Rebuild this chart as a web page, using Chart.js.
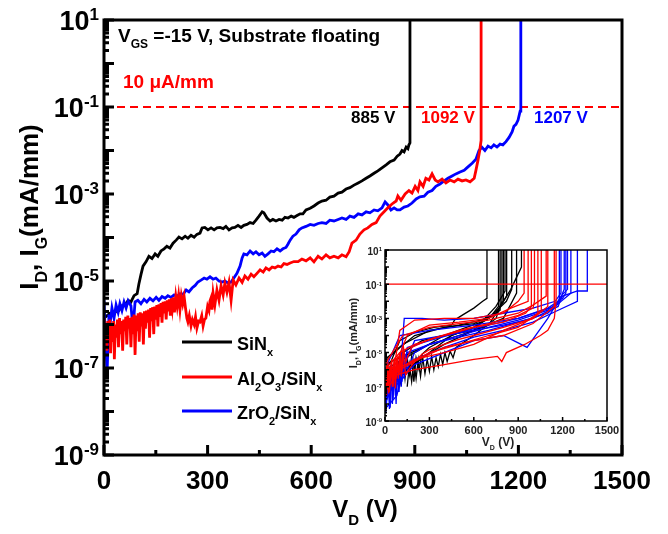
<!DOCTYPE html>
<html lang="en">
  <head>
    <meta charset="UTF-8" />
    <title>Breakdown characteristics</title>
    <style>
      body {
        margin: 0;
        background: #fff;
      }
      #wrap {
        position: relative;
        width: 668px;
        height: 534px;
      }
      #main {
        position: absolute;
        left: 0;
        top: 0;
      }
      #inset {
        position: absolute;
        left: 340px;
        top: 240px;
      }
    </style>
  </head>
  <body>
    <script src="https://cdn.jsdelivr.net/npm/chart.js@4.4.1/dist/chart.umd.min.js"></script>

    <div id="wrap">
      <canvas id="main" width="668" height="534"></canvas>
      <canvas id="inset" width="280" height="220"></canvas>
    </div>

    <script>
      // ---- data: [V_D (V), I (mA/mm)] ----
      const sinData = [[0,1.4e-6],[9,1.6e-6],[17,1.8e-6],[26,1.7e-6],[35,2.0e-6],[43,2.1e-6],[52,2.7e-6],[61,2.8e-6],[70,3.6e-6],[78,3.3e-6],[87,4.6e-6],[96,5.1e-6],[101,8.5e-6],[107,1.4e-5],[113,2.2e-5],[122,2.8e-5],[130,3.7e-5],[139,3.3e-5],[148,4.2e-5],[156,3.7e-5],[165,4.9e-5],[174,5.5e-5],[182,6.3e-5],[191,5.7e-5],[200,7.4e-5],[209,8.7e-5],[217,1.02e-4],[226,9.3e-5],[235,1.07e-4],[243,9.6e-5],[252,1.13e-4],[261,1.02e-4],[269,1.18e-4],[278,1.26e-4],[284,1.66e-4],[292,1.7e-4],[301,1.5e-4],[310,1.66e-4],[319,1.5e-4],[327,1.66e-4],[336,1.7e-4],[345,1.6e-4],[353,1.8e-4],[362,1.5e-4],[371,1.66e-4],[379,1.7e-4],[388,1.9e-4],[397,1.7e-4],[405,1.9e-4],[414,2.0e-4],[423,2.2e-4],[432,2.1e-4],[440,2.5e-4],[449,3.1e-4],[458,3.9e-4],[463,3.7e-4],[472,2.8e-4],[481,2.4e-4],[489,2.6e-4],[498,2.4e-4],[507,2.6e-4],[516,2.5e-4],[524,2.9e-4],[533,2.8e-4],[542,3.1e-4],[550,2.9e-4],[559,3.2e-4],[568,3.5e-4],[576,3.5e-4],[585,4.3e-4],[597,4.7e-4],[608,5.3e-4],[620,6.2e-4],[631,6.9e-4],[643,7.2e-4],[654,8.5e-4],[666,8.9e-4],[678,1.05e-3],[689,1.1e-3],[701,1.3e-3],[712,1.4e-3],[724,1.6e-3],[736,1.8e-3],[747,2.0e-3],[759,2.3e-3],[770,2.6e-3],[782,3.0e-3],[793,3.4e-3],[805,4.0e-3],[817,4.7e-3],[828,5.5e-3],[840,6.0e-3],[849,7.4e-3],[857,8.3e-3],[863,1.0e-2],[869,9.3e-3],[875,1.2e-2],[880,1.1e-2],[883,1.35e-2],[886,1.5e-2],[886,10]];

      const alData = [[0,1.4e-6],[3,5e-7],[6,1.1e-6],[8,2.5e-7],[11,1.2e-6],[14,6e-7],[17,1.3e-6],[19,2.2e-7],[22,1.1e-6],[25,4e-7],[28,1.2e-6],[30,1.6e-7],[33,1.0e-6],[36,5e-7],[39,1.3e-6],[42,3e-7],[45,1.4e-6],[48,6e-7],[51,1.2e-6],[54,2.5e-7],[57,1.3e-6],[60,7e-7],[63,1.5e-6],[66,3.5e-7],[69,1.6e-6],[72,8e-7],[75,1.4e-6],[78,3e-7],[81,1.5e-6],[84,6e-7],[87,1.7e-6],[90,2e-7],[93,1.6e-6],[96,7e-7],[99,1.8e-6],[102,4e-7],[105,1.9e-6],[108,9e-7],[111,1.8e-6],[114,3.5e-7],[117,2.0e-6],[120,8e-7],[123,2.1e-6],[126,1.1e-6],[129,2.2e-6],[132,5e-7],[135,2.4e-6],[138,1.2e-6],[141,2.5e-6],[144,6e-7],[147,2.6e-6],[150,1.3e-6],[153,2.8e-6],[156,9e-7],[159,2.9e-6],[162,1.5e-6],[165,3.1e-6],[168,1.1e-6],[171,3.3e-6],[174,1.8e-6],[177,3.4e-6],[180,1.3e-6],[183,3.6e-6],[186,2.0e-6],[189,3.8e-6],[192,1.6e-6],[195,4.0e-6],[198,2.4e-6],[201,4.2e-6],[204,1.9e-6],[208,4.4e-6],[212,2.6e-6],[216,4.6e-6],[220,2.2e-6],[224,4.5e-6],[228,3.0e-6],[232,4.4e-6],[236,2.4e-6],[240,1.4e-6],[243,1.15e-6],[247,1.6e-6],[252,9.3e-7],[256,1.3e-6],[261,1.0e-6],[265,1.5e-6],[269,8.3e-7],[274,1.2e-6],[278,1.15e-6],[283,1.6e-6],[287,9.3e-7],[291,1.3e-6],[295,1.4e-6],[300,2.6e-6],[304,2.1e-6],[307,3.5e-6],[310,4.1e-6],[313,2.2e-6],[316,5.2e-6],[321,2.8e-6],[327,6.2e-6],[333,3.6e-6],[339,7.8e-6],[345,4.8e-6],[350,8.9e-6],[356,5.5e-6],[362,9.3e-6],[368,3.6e-6],[374,1.05e-5],[382,8.1e-6],[391,1.17e-5],[400,9.3e-6],[408,1.3e-5],[417,1.1e-5],[426,1.44e-5],[434,1.25e-5],[443,1.5e-5],[452,1.8e-5],[461,1.6e-5],[469,2.0e-5],[478,1.8e-5],[487,2.1e-5],[495,2.0e-5],[504,2.2e-5],[513,2.1e-5],[521,2.5e-5],[530,2.4e-5],[539,2.6e-5],[550,2.8e-5],[562,2.8e-5],[573,3.2e-5],[585,2.9e-5],[597,3.4e-5],[608,2.75e-5],[620,3.7e-5],[631,3.2e-5],[643,4.0e-5],[654,3.4e-5],[666,3.7e-5],[678,3.4e-5],[689,4.0e-5],[701,3.6e-5],[710,4.7e-5],[718,7.4e-5],[730,8.7e-5],[741,1.2e-4],[753,1.5e-4],[764,1.66e-4],[776,2.0e-4],[788,2.2e-4],[799,3.1e-4],[811,3.9e-4],[822,4.8e-4],[834,5.9e-4],[846,6.9e-4],[851,9.0e-4],[860,7.2e-4],[872,1.0e-3],[883,1.2e-3],[892,1.05e-3],[901,1.5e-3],[909,1.2e-3],[915,1.9e-3],[924,1.5e-3],[932,2.3e-3],[941,2.1e-3],[950,2.9e-3],[959,2.1e-3],[967,1.9e-3],[979,2.2e-3],[990,1.8e-3],[1002,2.1e-3],[1014,1.9e-3],[1025,2.2e-3],[1037,2.0e-3],[1048,2.1e-3],[1060,1.9e-3],[1072,2.3e-3],[1077,3.5e-3],[1083,6.0e-3],[1088,1.0e-2],[1092,1.7e-2],[1092,10]];

      const zrData = [[0,3.6e-6],[3,7.4e-7],[6,2.6e-7],[9,7.8e-8],[12,4.4e-7],[14,1.7e-6],[17,9.8e-7],[23,2.4e-6],[29,1.4e-6],[35,2.8e-6],[41,1.9e-6],[46,3.0e-6],[52,2.1e-6],[58,3.3e-6],[64,2.4e-6],[70,3.5e-6],[78,2.7e-6],[84,8.3e-7],[90,3.3e-6],[98,3.6e-6],[107,3.0e-6],[116,3.8e-6],[124,3.3e-6],[133,4.0e-6],[142,3.5e-6],[151,4.2e-6],[159,3.6e-6],[168,4.4e-6],[177,4.0e-6],[185,4.6e-6],[194,4.2e-6],[203,4.8e-6],[211,4.4e-6],[220,5.1e-6],[229,4.9e-6],[238,6.2e-6],[246,5.6e-6],[255,6.9e-6],[264,7.9e-6],[272,9.5e-6],[281,1.05e-5],[290,1.17e-5],[298,1.1e-5],[307,1.25e-5],[316,1.1e-5],[324,1.17e-5],[333,1.0e-5],[342,9.5e-6],[350,1.0e-5],[359,9.0e-6],[368,9.5e-6],[376,1.17e-5],[385,1.5e-5],[394,2.2e-5],[400,3.4e-5],[405,4.2e-5],[414,4.0e-5],[423,4.9e-5],[432,4.2e-5],[440,4.7e-5],[449,4.0e-5],[458,4.4e-5],[466,3.7e-5],[475,4.2e-5],[484,4.9e-5],[492,4.7e-5],[501,5.5e-5],[510,4.9e-5],[518,5.5e-5],[527,5.9e-5],[533,7.1e-5],[539,8.7e-5],[547,1.07e-4],[556,1.2e-4],[565,1.5e-4],[573,1.66e-4],[585,1.8e-4],[597,2.0e-4],[608,1.9e-4],[620,2.1e-4],[631,2.2e-4],[643,2.1e-4],[654,2.5e-4],[666,2.4e-4],[678,2.6e-4],[689,2.8e-4],[701,2.6e-4],[712,3.1e-4],[724,2.9e-4],[736,3.5e-4],[747,3.3e-4],[759,3.9e-4],[770,3.7e-4],[782,4.3e-4],[793,4.1e-4],[805,4.8e-4],[814,6.6e-4],[822,5.6e-4],[831,4.3e-4],[840,4.8e-4],[849,4.3e-4],[857,4.3e-4],[869,5.0e-4],[880,5.3e-4],[892,6.2e-4],[904,7.7e-4],[915,8.6e-4],[927,8.9e-4],[938,1.1e-3],[950,1.2e-3],[961,1.5e-3],[973,1.7e-3],[985,2.0e-3],[996,2.3e-3],[1008,2.6e-3],[1019,2.9e-3],[1031,3.2e-3],[1043,3.5e-3],[1054,4.2e-3],[1066,5.1e-3],[1077,6.3e-3],[1086,1.0e-2],[1094,1.2e-2],[1103,1.0e-2],[1112,1.26e-2],[1121,1.15e-2],[1129,1.35e-2],[1138,1.2e-2],[1147,1.4e-2],[1155,1.35e-2],[1164,1.6e-2],[1173,2.0e-2],[1182,2.7e-2],[1187,3.6e-2],[1193,4.0e-2],[1199,5.0e-2],[1205,8.0e-2],[1207,9.5e-2],[1207,10]];

      // inset: several devices of each kind
      const insetSiN = [
        [[0,1e-6],[40,3e-6],[100,5e-5],[200,1.5e-4],[330,3e-4],[450,4e-4],[470,8e-4],[520,1.5e-3],[600,4e-3],[660,1e-2],[689,1.5e-2],[689,10]],
        [[0,5e-7],[80,1e-6],[120,1e-5],[250,5e-5],[400,1e-4],[550,3e-4],[650,6e-4],[720,1.5e-3],[767,5e-3],[767,10]],
        [[0,2e-7],[100,3e-7],[150,1e-6],[300,1e-5],[450,1e-4],[600,3e-4],[700,1e-3],[778,3e-3],[778,10]],
        [[0,3e-6],[100,2e-5],[200,1e-4],[400,3e-4],[600,5e-4],[750,2e-3],[800,1e-2],[800,10]],
        [[0,1e-6],[150,1e-6],[250,5e-6],[400,3e-5],[600,2e-4],[750,5e-3],[811,4e-2],[811,10]],
        [[0,4e-6],[120,3e-5],[300,2e-4],[500,4e-4],[700,1e-3],[820,1e-2],[856,5e-2],[856,10]],
        [[0,1e-6],[200,1e-5],[400,1e-4],[600,2e-4],[800,1e-3],[889,3e-2],[889,10]],
        [[0,2e-6],[300,3e-5],[500,1e-4],[700,4e-4],[850,5e-2],[922,1],[922,10]],
        [[150,1e-7],[165,2e-6],[180,2e-7],[195,3e-6],[210,3e-7],[225,4e-6],[240,4e-7],[255,5e-6],[270,6e-7],[285,4e-6],[300,8e-7],[315,6e-6],[330,1e-6],[345,5e-6],[360,1.5e-6],[375,8e-6],[390,2e-6],[405,1e-5],[420,3e-6],[440,1.2e-5],[460,5e-6],[480,2e-5],[600,1e-4],[750,1e-3],[790,1e-2],[790,10]],
        [[60,1e-6],[75,1e-7],[90,3e-6],[105,2e-7],[120,4e-6],[135,3e-7],[150,5e-6],[165,5e-7],[180,6e-6],[195,2e-7],[210,5e-6],[230,1e-6],[250,8e-6],[300,2e-5],[450,1e-4],[600,3e-4],[750,2e-3],[822,2e-2],[822,10]]
      ];
      const insetAl = [
        [[0,1e-7],[60,1e-6],[100,2e-4],[200,8e-4],[400,1e-3],[600,1e-3],[800,2e-3],[900,1e-2],[940,3e-2],[940,10]],
        [[0,3e-7],[80,3e-6],[150,1e-4],[300,4e-4],[500,6e-4],[700,1e-3],[850,4e-3],[967,1e-2],[967,10]],
        [[0,1e-6],[100,1e-5],[200,3e-5],[400,1e-4],[600,3e-4],[800,6e-4],[950,2e-3],[989,5e-3],[989,10]],
        [[0,5e-8],[80,5e-7],[200,1e-6],[400,2e-6],[600,4e-6],[760,6e-6],[789,3e-6],[820,1e-5],[944,3e-5],[1050,1e-4],[1100,2e-4],[1144,1e-3],[1156,1e-2],[1156,10]],
        [[0,2e-7],[100,1e-6],[250,5e-6],[400,2e-5],[600,5e-5],[800,1e-4],[1000,5e-4],[1144,5e-3],[1144,10]],
        [[0,1e-6],[150,2e-6],[300,1e-5],[500,3e-5],[700,1e-4],[900,3e-4],[1033,2e-3],[1033,10]],
        [[0,4e-7],[200,4e-6],[400,1e-5],[600,3e-5],[800,2e-4],[1000,1e-3],[1056,3e-3],[1056,10]],
        [[0,2e-6],[120,1e-4],[300,3e-4],[500,5e-4],[700,8e-4],[900,2e-3],[1000,6e-3],[1089,2e-2],[1089,10]],
        [[0,3e-7],[10,3e-8],[20,1e-6],[30,5e-8],[40,2e-6],[50,1e-7],[60,3e-6],[70,8e-8],[80,5e-6],[90,3e-7],[100,8e-6],[110,4e-7],[120,1e-5],[140,5e-7],[160,1e-6],[200,3e-6],[250,8e-6],[300,1.5e-5],[400,3e-5],[500,6e-5],[600,1e-4],[800,3e-4],[1000,1e-3],[1100,5e-3],[1100,10]],
        [[0,1e-6],[5,5e-8],[10,2e-6],[15,1e-7],[20,3e-6],[25,4e-8],[30,1.5e-6],[35,2e-7],[45,4e-6],[55,1e-7],[65,5e-6],[75,3e-7],[85,6e-6],[95,5e-7],[105,1e-5],[115,8e-7],[125,2e-5],[140,3e-6],[180,2e-5],[300,6e-5],[500,2e-4],[700,5e-4],[900,1.5e-3],[1000,4e-3],[1010,1e-2],[1010,10]]
      ];
      const insetZr = [
        [[0,1e-8],[50,1e-7],[100,3e-7],[130,1e-3],[250,1e-3],[400,8e-4],[600,1e-3],[800,2e-3],[1000,4e-3],[1150,1e-2],[1189,3e-2],[1189,10]],
        [[0,5e-9],[80,3e-8],[120,1e-6],[200,5e-5],[400,1e-4],[600,2e-4],[800,4e-4],[1000,1e-3],[1170,5e-3],[1200,3e-2],[1211,5e-2],[1211,10]],
        [[0,3e-8],[100,2e-7],[200,2e-6],[400,1e-5],[600,5e-5],[800,1e-4],[920,3e-5],[960,2e-5],[1100,1e-3],[1189,2e-2],[1233,5e-2],[1233,10]],
        [[0,1e-7],[150,1e-5],[300,3e-5],[500,8e-5],[700,2e-4],[900,6e-4],[1100,2e-3],[1190,1e-2],[1256,3e-2],[1256,10]],
        [[0,1e-6],[100,1e-4],[300,2e-4],[600,4e-4],[900,1e-3],[1150,5e-3],[1200,2e-2],[1300,4e-2],[1367,4e-2],[1367,10]],
        [[0,2e-8],[50,5e-7],[100,1e-6],[200,4e-6],[400,2e-5],[600,8e-5],[800,2e-4],[1000,6e-4],[1170,3e-3],[1300,1e-2],[1300,10]],
        [[0,1e-6],[10,1e-8],[20,5e-7],[30,5e-9],[40,2e-6],[50,1e-8],[60,1e-6],[70,3e-8],[80,3e-6],[90,5e-8],[100,2e-6],[110,1e-7],[120,5e-6],[130,3e-7],[140,8e-6],[150,1e-6],[200,1e-5],[300,3e-5],[500,1e-4],[700,3e-4],[900,8e-4],[1100,3e-3],[1178,1e-2],[1178,10]],
        [[0,3e-7],[5,3e-9],[10,8e-7],[15,2e-8],[25,1.5e-6],[35,6e-9],[45,2e-6],[55,2e-8],[65,3e-6],[75,1e-8],[85,4e-6],[95,5e-8],[105,6e-6],[115,2e-7],[125,1e-5],[135,5e-7],[150,2e-5],[300,5e-5],[500,1.5e-4],[700,4e-4],[900,1e-3],[1100,4e-3],[1200,1.5e-2],[1222,3e-2],[1222,10]]
      ];

      const seriesNames = ["SiN", "Al2O3/SiN", "ZrO2/SiN"];
      const seriesColors = ["#000000", "#ff0000", "#0000ff"];
      const xTicks = [0, 300, 600, 900, 1200, 1500];
      const yExps = [1, -1, -3, -5, -7, -9];
      const limitCurrent = 0.1; // 10 uA/mm criterion
      const breakdownLabels = ["885 V", "1092 V", "1207 V"];

      const FONT = '"Liberation Sans", Arial, Helvetica, sans-serif';

      function pts(arr) {
        return arr.map(p => ({ x: p[0], y: p[1] }));
      }

      // text with sub/superscripts, parts = [[text, "sub"|"sup"|undefined], ...]
      function rich(ctx, parts, x, y, size, color, align) {
        let total = 0;
        const m = parts.map(p => {
          const s = p[1] ? Math.round(size * 0.62) : size;
          ctx.font = "bold " + s + "px " + FONT;
          const w = ctx.measureText(p[0]).width;
          total += w;
          return { t: p[0], s: s, w: w, k: p[1] };
        });
        let cx = x;
        if (align === "center") cx = x - total / 2;
        if (align === "right") cx = x - total;
        ctx.fillStyle = color;
        ctx.textAlign = "left";
        ctx.textBaseline = "alphabetic";
        m.forEach(p => {
          ctx.font = "bold " + p.s + "px " + FONT;
          let dy = 0;
          if (p.k === "sub") dy = size * 0.33;
          if (p.k === "sup") dy = -size * 0.36;
          ctx.fillText(p.t, cx, y + dy);
          cx += p.w;
        });
      }

      // frame + inward ticks for a log-y / linear-x chart
      function drawAxes(chart, lw, major, minor) {
        const { ctx, chartArea: a, scales } = chart;
        const x = scales.x, y = scales.y;
        ctx.save();
        ctx.strokeStyle = "#000";
        ctx.lineWidth = lw;
        ctx.strokeRect(a.left, a.top, a.right - a.left, a.bottom - a.top);
        ctx.beginPath();
        for (let v = 0; v <= 1500; v += 150) {
          const px = x.getPixelForValue(v);
          const len = v % 300 === 0 ? major : minor;
          ctx.moveTo(px, a.bottom);
          ctx.lineTo(px, a.bottom - len);
        }
        for (let e = -9; e <= 1; e++) {
          for (let k = 1; k <= 9; k++) {
            const val = k * Math.pow(10, e);
            if (val > 10) break;
            const py = y.getPixelForValue(val);
            const len = k === 1 ? major : minor;
            ctx.moveTo(a.left, py);
            ctx.lineTo(a.left + len, py);
          }
        }
        ctx.stroke();
        ctx.restore();
      }

      const mainDeco = {
        id: "mainDeco",
        beforeDatasetsDraw(chart) {
          const { ctx, chartArea: a, scales } = chart;
          const py = scales.y.getPixelForValue(limitCurrent);
          ctx.save();
          ctx.strokeStyle = "#ff0000";
          ctx.lineWidth = 2;
          ctx.setLineDash([8, 5]);
          ctx.beginPath();
          ctx.moveTo(a.left, py);
          ctx.lineTo(a.right, py);
          ctx.stroke();
          ctx.restore();
        },
        afterDraw(chart) {
          const { ctx, chartArea: a, scales } = chart;
          const x = scales.x, y = scales.y;
          drawAxes(chart, 3, 10, 5);

          // tick labels
          xTicks.forEach(v => {
            rich(ctx, [[String(v)]], x.getPixelForValue(v), 489, 26, "#000", "center");
          });
          yExps.forEach(e => {
            const py = y.getPixelForValue(Math.pow(10, e));
            rich(ctx, [["10"], [String(e), "sup"]], 99, py + 10, 27, "#000", "right");
          });

          // axis titles
          rich(ctx, [["V"], ["D", "sub"], [" (V)"]], 365, 517, 24, "#000", "center");
          ctx.save();
          ctx.translate(38, 207);
          ctx.rotate(-Math.PI / 2);
          rich(ctx, [["I"], ["D", "sub"], [", I"], ["G", "sub"], ["(mA/mm)"]], 0, 0, 26, "#000", "center");
          ctx.restore();

          // annotations
          rich(ctx, [["V"], ["GS", "sub"], [" =-15 V, Substrate floating"]], 118, 42, 19, "#000", "left");
          rich(ctx, [["10 \u03bcA/mm"]], 123, 88, 19, "#ff0000", "left");
          rich(ctx, [[breakdownLabels[0]]], 351, 123, 17, seriesColors[0], "left");
          rich(ctx, [[breakdownLabels[1]]], 421, 123, 17, seriesColors[1], "left");
          rich(ctx, [[breakdownLabels[2]]], 534, 123, 17, seriesColors[2], "left");

          // legend
          const legendParts = [
            [["SiN"], ["x", "sub"]],
            [["Al"], ["2", "sub"], ["O"], ["3", "sub"], ["/SiN"], ["x", "sub"]],
            [["ZrO"], ["2", "sub"], ["/SiN"], ["x", "sub"]]
          ];
          [342, 377, 411].forEach((ly, i) => {
            ctx.save();
            ctx.strokeStyle = seriesColors[i];
            ctx.lineWidth = 3;
            ctx.beginPath();
            ctx.moveTo(182, ly);
            ctx.lineTo(232, ly);
            ctx.stroke();
            ctx.restore();
            rich(ctx, legendParts[i], 237, ly + 8, 18, "#000", "left");
          });
        }
      };

      new Chart(document.getElementById("main"), {
        type: "scatter",
        data: {
          datasets: [
            { label: seriesNames[1], data: pts(alData), borderColor: seriesColors[1] },
            { label: seriesNames[2], data: pts(zrData), borderColor: seriesColors[2] },
            { label: seriesNames[0], data: pts(sinData), borderColor: seriesColors[0] }
          ].map(d => Object.assign(d, { showLine: true, pointRadius: 0, borderWidth: 2.8, tension: 0 }))
        },
        options: {
          responsive: false,
          animation: false,
          layout: { padding: { left: 104, right: 46, top: 20, bottom: 79 } },
          plugins: { legend: { display: false }, tooltip: { enabled: false } },
          scales: {
            x: { type: "linear", min: 0, max: 1500, display: false },
            y: { type: "logarithmic", min: 1e-9, max: 10, display: false }
          }
        },
        plugins: [mainDeco]
      });

      // ---- inset ----
      const insetDeco = {
        id: "insetDeco",
        beforeDraw(chart) {
          const { ctx, chartArea: a } = chart;
          ctx.save();
          ctx.fillStyle = "#fff";
          ctx.fillRect(a.left, a.top, a.right - a.left, a.bottom - a.top);
          ctx.restore();
        },
        afterDatasetsDraw(chart) {
          const { ctx, chartArea: a, scales } = chart;
          const py = scales.y.getPixelForValue(limitCurrent);
          ctx.save();
          ctx.strokeStyle = "#ff0000";
          ctx.lineWidth = 1.2;
          ctx.beginPath();
          ctx.moveTo(a.left, py);
          ctx.lineTo(a.right, py);
          ctx.stroke();
          ctx.restore();
        },
        afterDraw(chart) {
          const { ctx, chartArea: a, scales } = chart;
          const x = scales.x, y = scales.y;
          drawAxes(chart, 1.5, 4, 2);
          xTicks.forEach(v => {
            rich(ctx, [[String(v)]], x.getPixelForValue(v), 194, 11, "#222", "center");
          });
          yExps.forEach(e => {
            const py = y.getPixelForValue(Math.pow(10, e));
            rich(ctx, [["10"], [String(e), "sup"]], 42, py + 5, 10, "#222", "right");
          });
          rich(ctx, [["V"], ["D", "sub"], [" (V)"]], 158, 206, 12, "#222", "center");
          ctx.save();
          ctx.translate(17, 93);
          ctx.rotate(-Math.PI / 2);
          rich(ctx, [["I"], ["D", "sub"], [", I"], ["G", "sub"], ["(mA/mm)"]], 0, 0, 11, "#222", "center");
          ctx.restore();
        }
      };

      const insetSets = [];
      insetAl.forEach(c => insetSets.push({ data: pts(c), borderColor: seriesColors[1] }));
      insetZr.forEach(c => insetSets.push({ data: pts(c), borderColor: seriesColors[2] }));
      insetSiN.forEach(c => insetSets.push({ data: pts(c), borderColor: seriesColors[0] }));

      new Chart(document.getElementById("inset"), {
        type: "scatter",
        data: {
          datasets: insetSets.map(d => Object.assign(d, { showLine: true, pointRadius: 0, borderWidth: 1.3, tension: 0 }))
        },
        options: {
          responsive: false,
          animation: false,
          layout: { padding: { left: 45, right: 13, top: 10, bottom: 39 } },
          plugins: { legend: { display: false }, tooltip: { enabled: false } },
          scales: {
            x: { type: "linear", min: 0, max: 1500, display: false },
            y: { type: "logarithmic", min: 1e-9, max: 10, display: false }
          }
        },
        plugins: [insetDeco]
      });
    </script>
  </body>
</html>
